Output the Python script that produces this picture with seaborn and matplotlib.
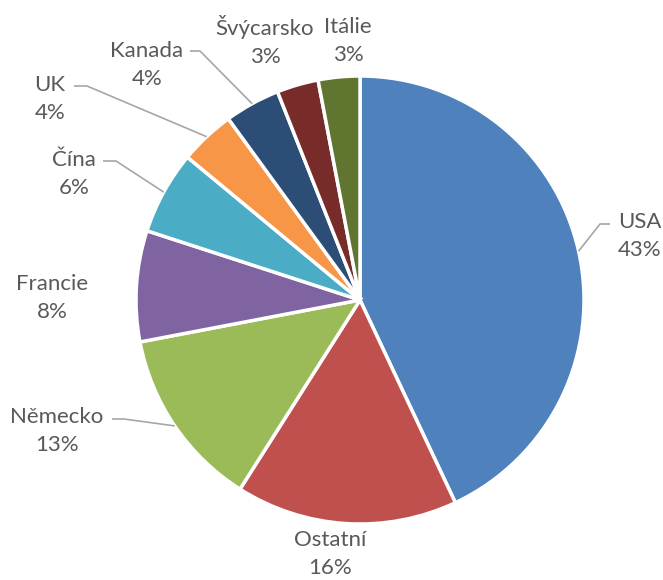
import numpy as np
import matplotlib
matplotlib.use("Agg")
import matplotlib.pyplot as plt
import seaborn as sns

# podíl zemí (%)
countries = ["USA", "Ostatní", "Německo", "Francie", "Čína", "UK", "Kanada", "Švýcarsko", "Itálie"]
shares = [43, 16, 13, 8, 6, 4, 4, 3, 3]
colors = ["#4F81BD", "#C0504D", "#9BBB59", "#8064A2", "#4BACC6",
          "#F79646", "#2C4D75", "#772C2A", "#5F7530"]

W, H = 663, 580
CX, CY, R = 360, 300, 224   # pixel coords, y from top

# label layout: text centre (px from top), leader end point + elbow x
label_pos = {
    "USA": (640, 236), "Ostatní": (330, 554), "Německo": (57, 431),
    "Francie": (52, 298), "Čína": (74, 174), "UK": (50, 99),
    "Kanada": (147, 65), "Švýcarsko": (265, 41), "Itálie": (348, 41),
}
leaders = {
    "USA": ((610, 224), 600), "Německo": ((112, 419), 124),
    "Čína": ((103, 161), 116), "UK": ((74, 86), 87), "Kanada": ((190, 51), 200),
}

sns.set_theme(style="white")
plt.rcParams["font.family"] = ["Lato", "DejaVu Sans"]

fig = plt.figure(figsize=(W / 100, H / 100), dpi=100)
ax = fig.add_axes([0, 0, 1, 1])

wedges, _ = ax.pie(shares, colors=colors, startangle=90, counterclock=False,
                   center=(CX, H - CY), radius=R,
                   wedgeprops=dict(edgecolor="white", linewidth=2.5))
ax.set_xlim(0, W)
ax.set_ylim(0, H)
ax.set_aspect("equal")
ax.axis("off")

for w, name, val in zip(wedges, countries, shares):
    tx, ty = label_pos[name]
    ax.text(tx, H - ty, f"{name}\n{val}%", ha="center", va="center",
            fontsize=16, color="#595959", linespacing=1.5)
    if name in leaders:
        (ex, ey), bx = leaders[name]
        mid = np.deg2rad((w.theta1 + w.theta2) / 2)
        sx = CX + R * np.cos(mid)
        sy = (H - CY) + R * np.sin(mid)
        ax.plot([ex, bx, sx], [H - ey, H - ey, sy], color="#A6A6A6", lw=1.2,
                solid_capstyle="butt")

fig.savefig("out.png", dpi=100)
